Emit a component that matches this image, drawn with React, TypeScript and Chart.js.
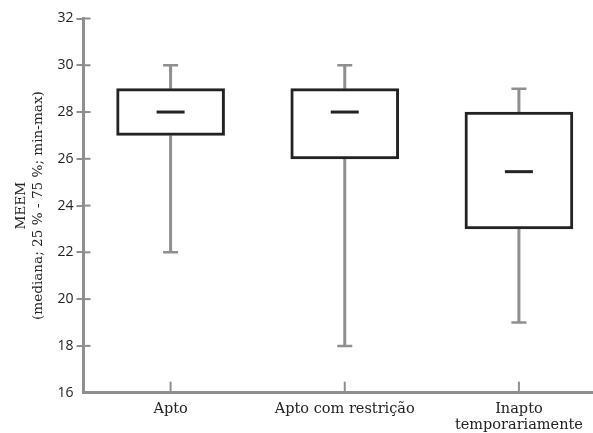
import React, { useEffect, useRef } from "react";
import { Chart, registerables } from "chart.js";

Chart.register(...registerables);

const categories: (string | string[])[] = ["Apto", "Apto com restrição", ["Inapto", "temporariamente"]];
const minValues = [22, 18, 19];
const q1Values = [27, 26, 23];
const medianValues = [28, 28, 25.45];
const q3Values = [29, 29, 28];
const maxValues = [30, 30, 29];
const yTitle = ["MEEM", "(mediana; 25 % - 75 %; min-max)"];

const GRAY = "#8f8f8f";
const DARK = "#232323";

const boxPlugin = {
  id: "boxExtras",
  beforeDatasetsDraw(chart: any) {
    const { ctx, scales, chartArea } = chart;
    const x = scales.x;
    const y = scales.y;
    ctx.save();
    ctx.strokeStyle = GRAY;
    ctx.lineCap = "butt";
    for (let i = 0; i < categories.length; i++) {
      const px = x.getPixelForValue(i);
      ctx.lineWidth = 3;
      ctx.beginPath();
      ctx.moveTo(px, y.getPixelForValue(minValues[i]));
      ctx.lineTo(px, y.getPixelForValue(q1Values[i]));
      ctx.moveTo(px, y.getPixelForValue(q3Values[i]));
      ctx.lineTo(px, y.getPixelForValue(maxValues[i]));
      ctx.stroke();
      ctx.lineWidth = 2.5;
      ctx.beginPath();
      ctx.moveTo(px - 7.5, y.getPixelForValue(minValues[i]));
      ctx.lineTo(px + 7.5, y.getPixelForValue(minValues[i]));
      ctx.moveTo(px - 7.5, y.getPixelForValue(maxValues[i]));
      ctx.lineTo(px + 7.5, y.getPixelForValue(maxValues[i]));
      ctx.stroke();
      ctx.lineWidth = 2;
      ctx.beginPath();
      ctx.moveTo(px, chartArea.bottom);
      ctx.lineTo(px, chartArea.bottom - 11);
      ctx.stroke();
    }
    ctx.lineWidth = 2;
    y.ticks.forEach((t: any) => {
      if (t.value === y.min) return;
      const py = y.getPixelForValue(t.value);
      ctx.beginPath();
      ctx.moveTo(chartArea.left, py);
      ctx.lineTo(chartArea.left + 7, py);
      ctx.stroke();
    });
    ctx.restore();
  },
  afterDatasetsDraw(chart: any) {
    const { ctx, scales } = chart;
    const x = scales.x;
    const y = scales.y;
    ctx.save();
    ctx.strokeStyle = DARK;
    ctx.lineWidth = 3;
    for (let i = 0; i < categories.length; i++) {
      const px = x.getPixelForValue(i);
      const py = y.getPixelForValue(medianValues[i]);
      ctx.beginPath();
      ctx.moveTo(px - 14, py);
      ctx.lineTo(px + 14, py);
      ctx.stroke();
    }
    ctx.restore();
  },
};

export default function App() {
  const ref = useRef<HTMLCanvasElement>(null);
  useEffect(() => {
    document.body.style.margin = "0";
    document.body.style.overflow = "hidden";
    const chart = new Chart(ref.current!, {
      type: "bar",
      data: {
        labels: categories as any,
        datasets: [
          {
            data: q1Values.map((v, i) => [v, q3Values[i]]) as any,
            backgroundColor: "#ffffff",
            borderColor: DARK,
            borderWidth: 3,
            borderSkipped: false,
            barThickness: 108,
          },
        ],
      },
      options: {
        responsive: false,
        animation: false,
        layout: { padding: { top: 18.5, right: 0, left: 12.5, bottom: 0 } },
        plugins: { legend: { display: false }, tooltip: { enabled: false } },
        scales: {
          x: {
            offset: true,
            grid: { display: false, drawOnChartArea: false, drawTicks: false },
            border: { display: true, color: GRAY, width: 3 },
            ticks: {
              color: DARK,
              padding: 8,
              maxRotation: 0,
              font: { family: "DejaVu Serif", size: 14.5, lineHeight: 1.15 },
            },
          },
          y: {
            min: 16,
            max: 32,
            ticks: {
              stepSize: 2,
              color: DARK,
              padding: 3,
              font: { family: "Open Sans", size: 14 },
            },
            grid: {
              drawOnChartArea: false,
              tickLength: 7,
              lineWidth: 2,
              color: (c: any) => (c.tick && c.tick.value === 16 ? "rgba(0,0,0,0)" : GRAY),
            },
            border: { display: true, color: GRAY, width: 3 },
            title: {
              display: true,
              text: yTitle,
              color: DARK,
              padding: { top: 0, bottom: 8 },
              font: { family: "DejaVu Serif", size: 13.6, lineHeight: 1.25 },
            },
          },
        },
      },
      plugins: [boxPlugin],
    });
    return () => chart.destroy();
  }, []);
  return (
    <div style={{ position: "absolute", left: 0, top: 0, width: 593, height: 433, overflow: "hidden", background: "#fff" }}>
      <canvas ref={ref} width={606} height={442} />
    </div>
  );
}
